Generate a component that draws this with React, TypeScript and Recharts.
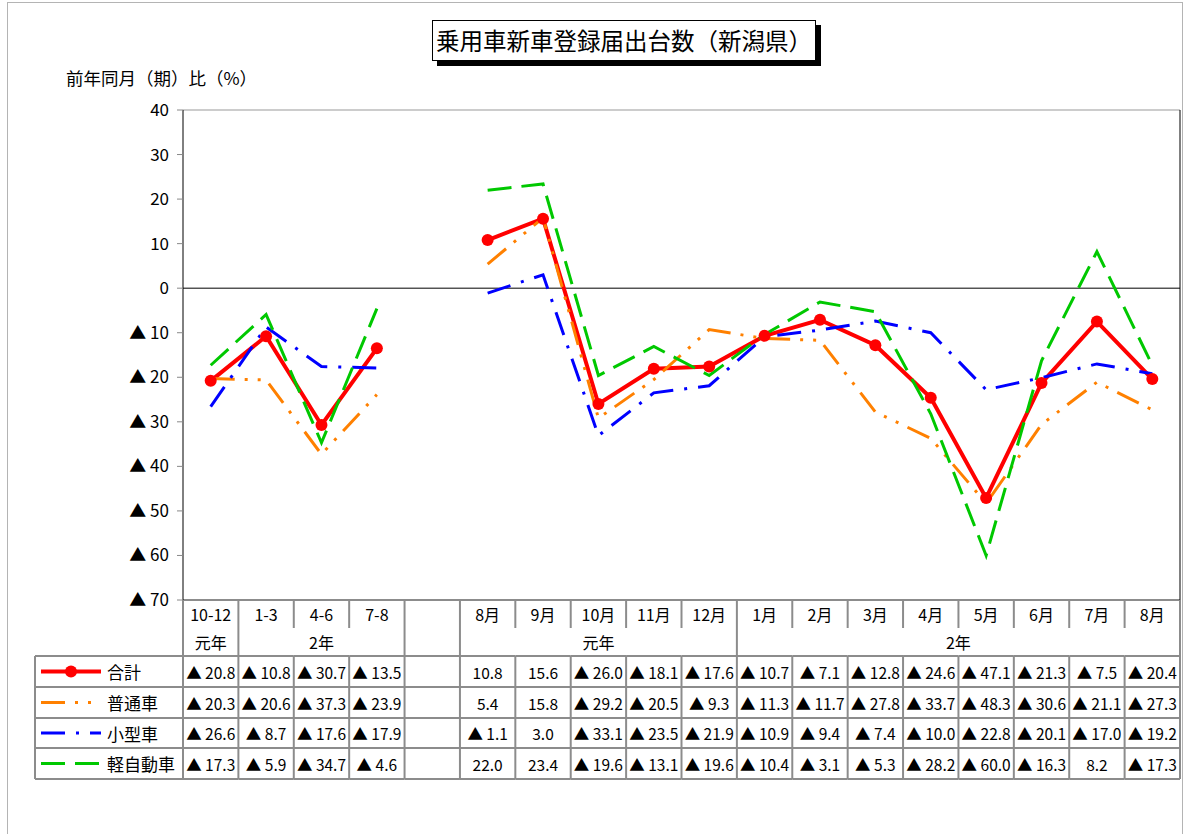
import { LineChart, Line, XAxis, YAxis, ReferenceLine } from "recharts";

// 乗用車新車登録届出台数（新潟県）— 前年同月（期）比, with the value table under the axis.
const CATS = ["10-12", "1-3", "4-6", "7-8", "", "8月", "9月", "10月", "11月", "12月", "1月", "2月", "3月", "4月", "5月", "6月", "7月", "8月"];
const YEAR_LABELS = ["元年", "2年", "", "元年", "2年"];
const YEAR_SPANS = [1, 3, 1, 5, 8];

const TOTAL = [-20.8, -10.8, -30.7, -13.5, null, 10.8, 15.6, -26.0, -18.1, -17.6, -10.7, -7.1, -12.8, -24.6, -47.1, -21.3, -7.5, -20.4];
const FUTSU = [-20.3, -20.6, -37.3, -23.9, null, 5.4, 15.8, -29.2, -20.5, -9.3, -11.3, -11.7, -27.8, -33.7, -48.3, -30.6, -21.1, -27.3];
const KOGATA = [-26.6, -8.7, -17.6, -17.9, null, -1.1, 3.0, -33.1, -23.5, -21.9, -10.9, -9.4, -7.4, -10.0, -22.8, -20.1, -17.0, -19.2];
const KEI = [-17.3, -5.9, -34.7, -4.6, null, 22.0, 23.4, -19.6, -13.1, -19.6, -10.4, -3.1, -5.3, -28.2, -60.0, -16.3, 8.2, -17.3];

const Y_TICKS = [40, 30, 20, 10, 0, -10, -20, -30, -40, -50, -60, -70];

const SERIES = [
  { key: "total", name: "合計", values: TOTAL, color: "#ff0000", width: 4, dash: undefined as string | undefined },
  { key: "futsu", name: "普通車", values: FUTSU, color: "#ff8000", width: 3, dash: "24 10 3 10 3 10" },
  { key: "kogata", name: "小型車", values: KOGATA, color: "#0000ff", width: 3, dash: "24 11 3 11" },
  { key: "kei", name: "軽自動車", values: KEI, color: "#00c800", width: 3, dash: "24 10" },
];

// one row per category; "id" keeps the duplicated labels ("8月", blank) distinct
const data = CATS.map((cat, i) => {
  const row: Record<string, string | number | null> = { id: `c${i}`, cat };
  SERIES.forEach((s) => (row[s.key] = s.values[i]));
  return row;
});

// layout
const W = 1183;
const H = 834;
const PLOT_L = 183;
const PLOT_R = 1180;
const PLOT_T = 110;
const PLOT_B = 600;
const BAND = (PLOT_R - PLOT_L) / CATS.length;
const HALF = BAND / 2;
const LEG_W = 148;
const HDR_MID = 614;
const HDR_SEP_END = 628;
const YEAR_MID = 642;
const ROW_Y = [656, 687, 718, 748, 779];
const GRID = "#8c8c8c";
const FONT = "'Liberation Sans Narrow', 'Noto Sans CJK JP', sans-serif";
const JP_FONT = "'Noto Sans CJK JP', sans-serif";

const GROUP_STARTS = YEAR_SPANS.map((_, g) => YEAR_SPANS.slice(0, g).reduce((a, b) => a + b, 0));

const fmt = (v: number | null) => (v == null ? "" : v < 0 ? `▲ ${(-v).toFixed(1)}` : v.toFixed(1));

function LegendSample({ s, x0, y }: { s: (typeof SERIES)[number]; x0: number; y: number }) {
  return (
    <g>
      <line x1={x0 + 6} x2={x0 + 66} y1={y} y2={y} stroke={s.color} strokeWidth={s.width} strokeDasharray={s.dash} />
      {s.key === "total" && <circle cx={x0 + 36} cy={y} r={6} fill={s.color} />}
      <text x={x0 + 72} y={y} dominantBaseline="central" fontSize={17} fontFamily={JP_FONT} fill="#000">
        {s.name}
      </text>
    </g>
  );
}

function TableTick(props: any) {
  const { x, index } = props;
  const l = x - HALF;
  const r = x + HALF;
  const gIdx = GROUP_STARTS.indexOf(index);
  const last = index === CATS.length - 1;
  return (
    <g>
      <text x={x} y={HDR_MID} textAnchor="middle" dominantBaseline="central" fontSize={16} fontFamily={FONT} fill="#000">
        {CATS[index]}
      </text>
      <line x1={l} x2={l} y1={PLOT_B} y2={gIdx >= 0 ? ROW_Y[0] : HDR_SEP_END} stroke={GRID} strokeWidth={2} />
      {last && <line x1={r} x2={r} y1={PLOT_B} y2={ROW_Y[4]} stroke={GRID} strokeWidth={2} />}
      {last && <line x1={r} x2={r} y1={PLOT_T} y2={PLOT_B} stroke="#000" strokeWidth={1} />}
      {gIdx >= 0 && (
        <text
          x={x + ((YEAR_SPANS[gIdx] - 1) * BAND) / 2}
          y={YEAR_MID}
          textAnchor="middle"
          dominantBaseline="central"
          fontSize={16}
          fontFamily={FONT}
          fill="#000"
        >
          {YEAR_LABELS[gIdx]}
        </text>
      )}
      {ROW_Y.map((ry) => (
        <line key={ry} x1={l} x2={r} y1={ry} y2={ry} stroke={GRID} strokeWidth={2} />
      ))}
      <line x1={l} x2={l} y1={ROW_Y[0]} y2={ROW_Y[4]} stroke={GRID} strokeWidth={2} />
      {SERIES.map((s, k) => (
        <text
          key={s.key}
          x={x}
          y={(ROW_Y[k] + ROW_Y[k + 1]) / 2}
          textAnchor="middle"
          dominantBaseline="central"
          fontSize={15.5}
          fontFamily={FONT}
          fill="#000"
        >
          {fmt(s.values[index])}
        </text>
      ))}
      {index === 0 && (
        <g>
          {ROW_Y.map((ry) => (
            <line key={ry} x1={l - LEG_W} x2={l} y1={ry} y2={ry} stroke={GRID} strokeWidth={2} />
          ))}
          <line x1={l - LEG_W} x2={l - LEG_W} y1={ROW_Y[0]} y2={ROW_Y[4]} stroke={GRID} strokeWidth={2} />
          {SERIES.map((s, k) => (
            <LegendSample key={s.key} s={s} x0={l - LEG_W} y={(ROW_Y[k] + ROW_Y[k + 1]) / 2} />
          ))}
        </g>
      )}
    </g>
  );
}

export default function App() {
  return (
    <div style={{ position: "absolute", left: 0, top: 0, width: W, height: H, background: "#fff", overflow: "hidden" }}>
      <div style={{ position: "absolute", left: 7, top: 2, width: 1174, height: 900, border: "1.5px solid #b4b4b4" }} />
      <div
        style={{
          position: "absolute",
          left: 432,
          top: 20,
          width: 382,
          height: 39,
          border: "1px solid #000",
          background: "#fff",
          boxShadow: "5px 5px 0 #000",
          fontFamily: JP_FONT,
          fontSize: 23.5,
          lineHeight: "39px",
          textAlign: "center",
          color: "#000",
        }}
      >
        乗用車新車登録届出台数（新潟県）
      </div>
      <div style={{ position: "absolute", left: 66, top: 65, fontFamily: JP_FONT, fontSize: 17.5, color: "#000", whiteSpace: "nowrap" }}>
        前年同月（期）比（%）
      </div>
      <div style={{ position: "absolute", left: 0, top: 0 }}>
        <LineChart width={W} height={H} data={data} margin={{ top: PLOT_T, right: W - PLOT_R, bottom: H - PLOT_B - 180, left: PLOT_L - 60 }}>
          <XAxis
            dataKey="id"
            scale="band"
            interval={0}
            height={180}
            tickLine={false}
            axisLine={{ stroke: GRID, strokeWidth: 2 }}
            tick={(p: any) => <TableTick {...p} />}
          />
          <YAxis
            width={60}
            domain={[-70, 40]}
            ticks={Y_TICKS}
            interval={0}
            tickSize={6}
            tickMargin={8}
            axisLine={{ stroke: "#000" }}
            tickLine={{ stroke: "#888" }}
            tick={{ fontSize: 17, fill: "#000", fontFamily: FONT }}
            tickFormatter={(v: number) => (v < 0 ? `▲ ${-v}` : `${v}`)}
          />
          <ReferenceLine y={40} stroke="#999" />
          <ReferenceLine y={0} stroke="#000" />
          {SERIES.map((s) => (
            <Line
              key={s.key}
              dataKey={s.key}
              name={s.name}
              type="linear"
              stroke={s.color}
              strokeWidth={s.width}
              strokeDasharray={s.dash}
              dot={s.key === "total" ? { r: 6, fill: s.color, stroke: s.color, strokeWidth: 0 } : false}
              activeDot={false}
              isAnimationActive={false}
            />
          ))}
        </LineChart>
      </div>
    </div>
  );
}
